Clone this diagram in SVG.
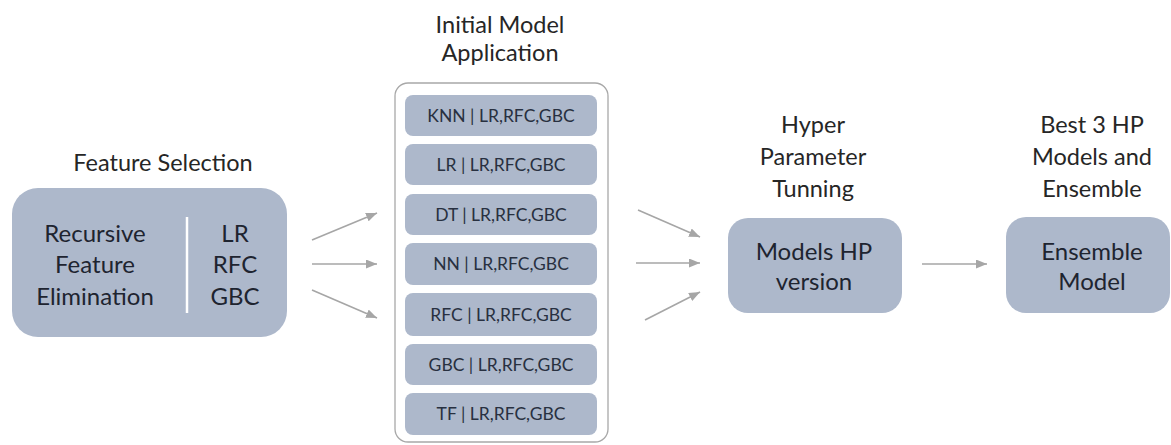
<svg xmlns="http://www.w3.org/2000/svg" width="1171" height="445" viewBox="0 0 1171 445">
  <defs>
    <marker id="arrow" viewBox="0 0 11 9" refX="11" refY="4.5" markerWidth="11" markerHeight="9" markerUnits="userSpaceOnUse" orient="auto">
      <path d="M0,0 L11,4.5 L0,9 Z" fill="#a6a6a6"/>
    </marker>
  </defs>
  <style>
    .box { fill: #adb8cb; }
    .title { font-family: Lato, "Open Sans", sans-serif; font-size: 23.5px; fill: #262626; text-anchor: middle; }
    .label { font-family: Lato, "Open Sans", sans-serif; font-size: 24px; fill: #1e2430; text-anchor: middle; }
    .item { font-family: Lato, "Open Sans", sans-serif; font-size: 17.5px; fill: #283040; text-anchor: middle; }
    .conn { stroke: #a6a6a6; stroke-width: 1.6; fill: none; marker-end: url(#arrow); }
  </style>
  <rect width="1171" height="445" fill="#ffffff"/>

  <!-- Feature selection -->
  <g id="feature-selection">
    <text class="title" x="163" y="171">Feature Selection</text>
    <rect class="box" x="12" y="188" width="275" height="149" rx="26"/>
    <text class="label" x="95" y="242">Recursive</text>
    <text class="label" x="95" y="273">Feature</text>
    <text class="label" x="95" y="305">Elimination</text>
    <line x1="187" y1="217" x2="187" y2="313" stroke="#ffffff" stroke-width="2.5"/>
    <text class="label" x="235" y="242">LR</text>
    <text class="label" x="235" y="273">RFC</text>
    <text class="label" x="235" y="305">GBC</text>
  </g>

  <!-- Initial model application -->
  <g id="initial-models">
    <text class="title" x="500" y="33">Initial Model</text>
    <text class="title" x="500" y="61">Application</text>
    <rect x="395" y="83" width="213" height="359" rx="13" fill="#ffffff" stroke="#a8a8a8" stroke-width="1.3"/>
    <g id="m-knn"><rect class="box" x="405" y="95" width="192" height="41" rx="8"/><text class="item" x="501" y="122">KNN | LR,RFC,GBC</text></g>
    <g id="m-lr"><rect class="box" x="405" y="144" width="192" height="41" rx="8"/><text class="item" x="501" y="171">LR | LR,RFC,GBC</text></g>
    <g id="m-dt"><rect class="box" x="405" y="194" width="192" height="41" rx="8"/><text class="item" x="501" y="221">DT | LR,RFC,GBC</text></g>
    <g id="m-nn"><rect class="box" x="405" y="243" width="192" height="42" rx="8"/><text class="item" x="501" y="270">NN | LR,RFC,GBC</text></g>
    <g id="m-rfc"><rect class="box" x="405" y="293" width="192" height="43" rx="8"/><text class="item" x="501" y="321">RFC | LR,RFC,GBC</text></g>
    <g id="m-gbc"><rect class="box" x="405" y="344" width="192" height="41" rx="8"/><text class="item" x="501" y="371">GBC | LR,RFC,GBC</text></g>
    <g id="m-tf"><rect class="box" x="405" y="393" width="192" height="42" rx="8"/><text class="item" x="501" y="420">TF | LR,RFC,GBC</text></g>
  </g>

  <!-- Hyper parameter tuning -->
  <g id="hp-tuning">
    <text class="title" x="813" y="133">Hyper</text>
    <text class="title" x="813" y="165">Parameter</text>
    <text class="title" x="813" y="197">Tunning</text>
    <rect class="box" x="728" y="218" width="174" height="95" rx="20"/>
    <text class="label" x="814" y="260">Models HP</text>
    <text class="label" x="814" y="290">version</text>
  </g>

  <!-- Ensemble -->
  <g id="ensemble">
    <text class="title" x="1092" y="133">Best 3 HP</text>
    <text class="title" x="1092" y="165">Models and</text>
    <text class="title" x="1092" y="197">Ensemble</text>
    <rect class="box" x="1006" y="217" width="164" height="96" rx="20"/>
    <text class="label" x="1092" y="260">Ensemble</text>
    <text class="label" x="1092" y="290">Model</text>
  </g>

  <!-- Connectors -->
  <g id="connectors">
    <line class="conn" x1="312" y1="240" x2="377" y2="213"/>
    <line class="conn" x1="312" y1="264" x2="377" y2="264"/>
    <line class="conn" x1="312" y1="290" x2="377" y2="318"/>
    <line class="conn" x1="638" y1="210" x2="700" y2="237"/>
    <line class="conn" x1="636" y1="263" x2="700" y2="263"/>
    <line class="conn" x1="645" y1="320" x2="700" y2="292"/>
    <line class="conn" x1="922" y1="264" x2="987" y2="264"/>
  </g>
</svg>
